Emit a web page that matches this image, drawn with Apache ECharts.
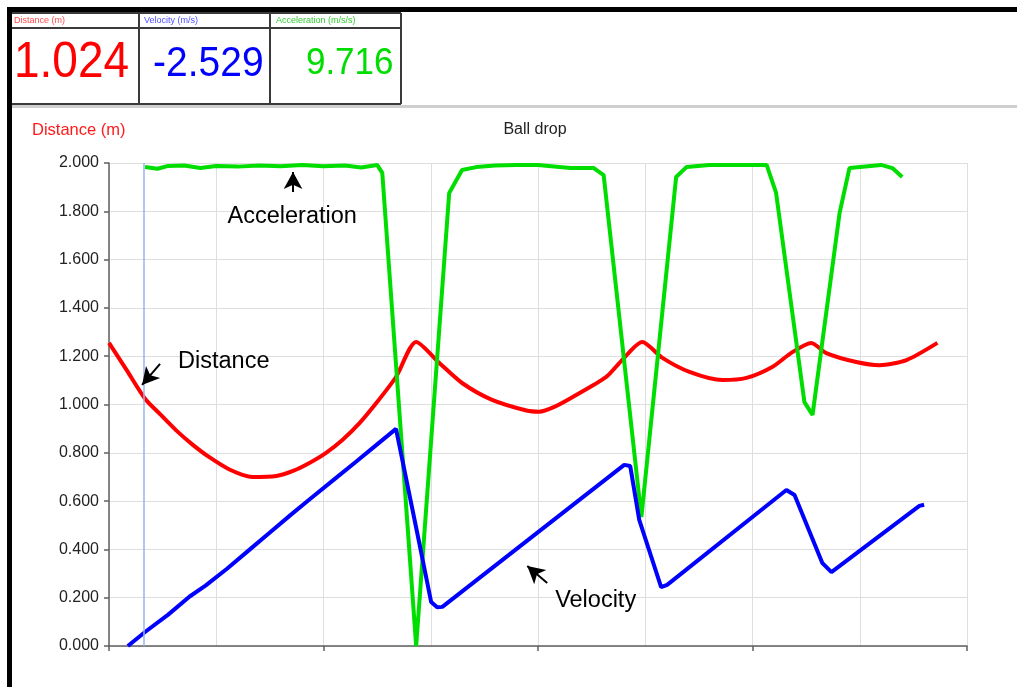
<!DOCTYPE html>
<html>
<head>
<meta charset="utf-8">
<script src="https://cdn.jsdelivr.net/npm/echarts@6/dist/echarts.min.js"></script>
<style>
  html, body { margin: 0; padding: 0; background: #fff; }
  #chart { width: 1017px; height: 687px; }
</style>
</head>
<body>
<div id="chart"></div>
<script>
// Ball drop run: sensor distance, velocity and acceleration traces (time in s)
const distanceTime  = [0, 0.042, 0.084, 0.119, 0.156, 0.194, 0.233, 0.282, 0.334, 0.390, 0.429, 0.467, 0.506, 0.544, 0.585, 0.623, 0.669, 0.716, 0.770, 0.823, 0.893, 0.973, 1.003, 1.038, 1.080, 1.159, 1.196, 1.243, 1.290, 1.353, 1.430, 1.486, 1.546, 1.593, 1.637, 1.672, 1.742, 1.796, 1.859, 1.931];
const distanceValue = [1.255, 1.140, 1.024, 0.960, 0.894, 0.835, 0.783, 0.730, 0.700, 0.704, 0.725, 0.758, 0.800, 0.853, 0.925, 1.006, 1.114, 1.259, 1.172, 1.089, 1.019, 0.975, 0.970, 0.990, 1.030, 1.114, 1.184, 1.259, 1.193, 1.135, 1.101, 1.110, 1.155, 1.217, 1.255, 1.213, 1.176, 1.163, 1.184, 1.255];

const velocityTime  = [0.044, 0.084, 0.138, 0.188, 0.225, 0.275, 0.325, 0.375, 0.425, 0.475, 0.525, 0.575, 0.625, 0.669, 0.728, 0.751, 0.765, 0.777, 1.201, 1.215, 1.236, 1.287, 1.301, 1.579, 1.598, 1.663, 1.684, 1.889, 1.900];
const velocityValue = [0.000, 0.058, 0.130, 0.205, 0.250, 0.320, 0.395, 0.470, 0.545, 0.618, 0.690, 0.762, 0.835, 0.899, 0.385, 0.182, 0.160, 0.162, 0.750, 0.745, 0.522, 0.244, 0.253, 0.646, 0.625, 0.343, 0.306, 0.580, 0.585];

const accelTime  = [0.084, 0.113, 0.138, 0.175, 0.213, 0.250, 0.300, 0.350, 0.400, 0.450, 0.500, 0.550, 0.588, 0.625, 0.637, 0.716, 0.793, 0.823, 0.856, 0.900, 0.950, 1.000, 1.075, 1.130, 1.153, 1.241, 1.322, 1.346, 1.400, 1.475, 1.533, 1.555, 1.621, 1.640, 1.703, 1.726, 1.800, 1.826, 1.849];
const accelValue = [1.983, 1.976, 1.988, 1.990, 1.979, 1.988, 1.985, 1.990, 1.987, 1.992, 1.987, 1.990, 1.981, 1.992, 1.959, 0.000, 1.876, 1.971, 1.983, 1.990, 1.992, 1.992, 1.979, 1.979, 1.950, 0.534, 1.942, 1.983, 1.992, 1.992, 1.992, 1.876, 1.010, 0.957, 1.793, 1.979, 1.992, 1.979, 1.942];

// cursor position and the readouts shown at it
const cursorTime = 0.084;
const readoutLabels = ['Distance (m)', 'Velocity (m/s)', 'Acceleration (m/s/s)'];
const readoutValues = ['1.024', '-2.529', '9.716'];

const FONT = '"Liberation Sans", Arial, sans-serif';
const RED = '#ff0000', BLUE = '#0000ff', GREEN = '#00dd00';

const zip = (xs, ys) => xs.map((x, i) => [x, ys[i]]);

const chart = echarts.init(document.getElementById('chart'), null, { renderer: 'canvas' });

const annText = (coord, text, position) => ({
  coord: coord,
  symbol: 'circle',
  symbolSize: 0,
  label: {
    show: true, formatter: text, position: position, distance: 0,
    color: '#000', fontSize: 23.5, fontFamily: FONT
  }
});
const arrowStyle = { color: '#000', width: 2, type: 'solid' };

const option = {
  animation: false,
  backgroundColor: '#fff',
  title: [
    { text: 'Ball drop', left: 535, top: 122, textAlign: 'center', padding: 0,
      textStyle: { fontSize: 16, fontWeight: 'normal', color: '#222', fontFamily: FONT } },
    { text: 'Distance (m)', left: 32, top: 122, padding: 0,
      textStyle: { fontSize: 16.5, fontWeight: 'normal', color: '#ff1a1a', fontFamily: FONT } }
  ],
  grid: { left: 109, right: 50, top: 163, bottom: 41 },
  xAxis: {
    type: 'value', min: 0, max: 2, interval: 0.5,
    axisLine: { show: true, lineStyle: { color: '#606060', width: 1.5 } },
    axisTick: { show: true, length: 5, lineStyle: { color: '#606060', width: 1.5 } },
    axisLabel: { show: false },
    splitLine: { show: true, lineStyle: { color: '#dedede', width: 1 } },
    minorTick: { show: false, splitNumber: 2 },
    minorSplitLine: { show: true, lineStyle: { color: '#dedede', width: 1 } }
  },
  yAxis: {
    type: 'value', min: 0, max: 2, interval: 0.2,
    axisLine: { show: true, lineStyle: { color: '#606060', width: 1.5 } },
    axisTick: { show: true, length: 5, lineStyle: { color: '#606060', width: 1.5 } },
    axisLabel: { formatter: v => v.toFixed(3), fontSize: 16, color: '#222', fontFamily: FONT, margin: 10 },
    splitLine: { show: true, lineStyle: { color: '#dedede', width: 1 } }
  },
  series: [
    {
      name: 'Distance', type: 'line', data: zip(distanceTime, distanceValue),
      showSymbol: false, smooth: 0.25, lineStyle: { color: RED, width: 4 }, itemStyle: { color: RED },
      markLine: {
        silent: true, symbol: 'none', animation: false,
        label: { show: false },
        lineStyle: { color: '#98b6ee', width: 1.5, type: 'solid', opacity: 1 },
        data: [{ xAxis: cursorTime }]
      },
      markPoint: { silent: true, data: [annText([0.161, 1.176], 'Distance', 'right')] }
    },
    {
      name: 'Acceleration', type: 'line', data: zip(accelTime, accelValue),
      showSymbol: false, lineStyle: { color: GREEN, width: 4 }, itemStyle: { color: GREEN },
      markLine: {
        silent: true, symbol: ['none', 'arrow'], symbolSize: [14, 17], animation: false,
        label: { show: false }, lineStyle: arrowStyle,
        data: [
          [{ coord: [0.429, 1.88] }, { coord: [0.429, 1.963] }],
          [{ coord: [0.119, 1.168] }, { coord: [0.077, 1.081] }],
          [{ coord: [1.0215, 0.261] }, { coord: [0.975, 0.331] }]
        ]
      },
      markPoint: { silent: true, data: [annText([0.427, 1.78], 'Acceleration', 'inside')] }
    },
    {
      name: 'Velocity', type: 'line', data: zip(velocityTime, velocityValue),
      showSymbol: false, lineStyle: { color: BLUE, width: 4 }, itemStyle: { color: BLUE },
      markPoint: { silent: true, data: [annText([1.04, 0.19], 'Velocity', 'right')] }
    }
  ],
  graphic: [
    // window frame
    { type: 'rect', shape: { x: 7, y: 7, width: 1010, height: 5 }, style: { fill: '#000' } },
    { type: 'rect', shape: { x: 7, y: 7, width: 5, height: 680 }, style: { fill: '#000' } },
    // readout panel
    { type: 'line', shape: { x1: 12, y1: 13, x2: 401, y2: 13 }, style: { stroke: '#3a3a3a', lineWidth: 2 } },
    { type: 'line', shape: { x1: 12, y1: 28, x2: 401, y2: 28 }, style: { stroke: '#3a3a3a', lineWidth: 2 } },
    { type: 'line', shape: { x1: 12, y1: 104, x2: 401, y2: 104 }, style: { stroke: '#3a3a3a', lineWidth: 2 } },
    { type: 'line', shape: { x1: 139, y1: 13, x2: 139, y2: 104 }, style: { stroke: '#3a3a3a', lineWidth: 2 } },
    { type: 'line', shape: { x1: 270, y1: 13, x2: 270, y2: 104 }, style: { stroke: '#3a3a3a', lineWidth: 2 } },
    { type: 'line', shape: { x1: 401, y1: 13, x2: 401, y2: 104 }, style: { stroke: '#3a3a3a', lineWidth: 2 } },
    { type: 'rect', shape: { x: 12, y: 105, width: 1005, height: 3 }, style: { fill: '#cfcfcf' } },
    { type: 'text', x: 14, y: 21, style: { text: readoutLabels[0], fill: '#ff4d4d', fontSize: 9, fontFamily: FONT, verticalAlign: 'middle' } },
    { type: 'text', x: 144, y: 21, style: { text: readoutLabels[1], fill: '#5050ff', fontSize: 9, fontFamily: FONT, verticalAlign: 'middle' } },
    { type: 'text', x: 276, y: 21, style: { text: readoutLabels[2], fill: '#33cc33', fontSize: 9, fontFamily: FONT, verticalAlign: 'middle' } },
    { type: 'text', x: 14, y: 63, scaleY: 1.08, style: { text: readoutValues[0], fill: RED, fontSize: 46, fontFamily: FONT, verticalAlign: 'middle' } },
    { type: 'text', x: 153, y: 64, scaleY: 1.08, style: { text: readoutValues[1], fill: BLUE, fontSize: 39, fontFamily: FONT, verticalAlign: 'middle' } },
    { type: 'text', x: 393.5, y: 64, scaleY: 1.08, style: { text: readoutValues[2], fill: GREEN, fontSize: 35, fontFamily: FONT, align: 'right', verticalAlign: 'middle' } }
  ]
};

chart.setOption(option);
</script>
</body>
</html>
